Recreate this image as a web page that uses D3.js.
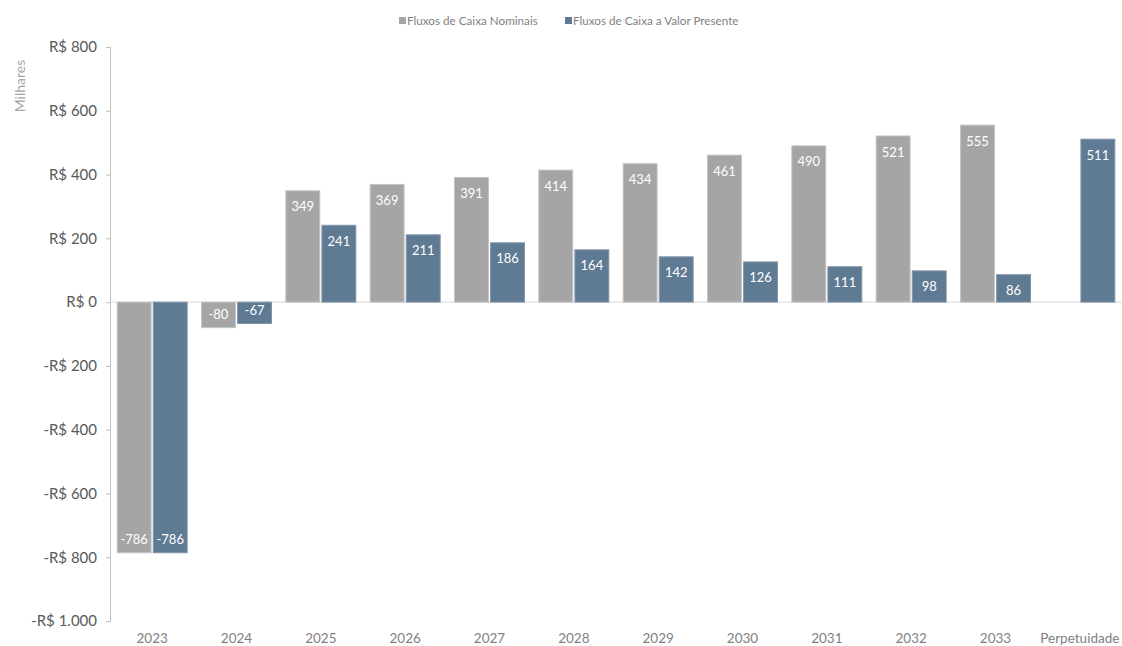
<!DOCTYPE html>
<html><head><meta charset="utf-8">
<script src="https://cdn.jsdelivr.net/npm/d3@7"></script>
<style>
body{margin:0;background:#fff;}
text{font-family:Lato,"Open Sans",sans-serif;}
</style></head>
<body><svg id="c" width="1122" height="646"></svg>
<script>
const categories = ["2023","2024","2025","2026","2027","2028","2029","2030","2031","2032","2033","Perpetuidade"];
const nominal = [-786,-80,349,369,391,414,434,461,490,521,555,null];
const presentValue = [-786,-67,241,211,186,164,142,126,111,98,86,511];
const yTicks = [800,600,400,200,0,-200,-400,-600,-800,-1000];
const seriesNames = ["Fluxos de Caixa Nominais","Fluxos de Caixa a Valor Presente"];
const colors = ["#A5A5A5","#5F7A93"];

const svg = d3.select("#c");
const mLeft = 110, mRight = 1122, mTop = 47, mBottom = 621;
const y = d3.scaleLinear().domain([-1000,800]).range([mBottom, mTop]);
const x = d3.scaleBand().domain(categories).range([mLeft, mRight]).paddingInner(0).paddingOuter(0);
const sub = d3.scaleBand().domain([0,1]).range([-35,35]).paddingInner(0.06);

// zero line
svg.append("line").attr("x1",mLeft).attr("x2",mRight).attr("y1",y(0)).attr("y2",y(0))
  .attr("stroke","#d9d9d9").attr("stroke-width",1);

// y axis
const fmt = v => v===0 ? "R$ 0" : (v<0 ? "-" : "") + "R$ " + d3.format(",")(Math.abs(v)).replace(/,/g,".");
const yAxis = d3.axisLeft(y).tickValues(yTicks).tickFormat(fmt).tickSize(4).tickPadding(9);
const gy = svg.append("g").attr("transform",`translate(${mLeft},0)`).call(yAxis);
gy.select(".domain").attr("stroke","#bfbfbf");
gy.selectAll(".tick line").attr("stroke","#bfbfbf");
gy.selectAll(".tick text").attr("fill","#595959").style("font-size","15px");

// x labels
const xAxis = d3.axisBottom(x).tickSize(0).tickPadding(0);
const gx = svg.append("g").attr("transform",`translate(0,${mBottom+12})`).call(xAxis);
gx.select(".domain").remove();
gx.selectAll(".tick text").attr("fill","#7f7f7f").style("font-size","13.5px");

const series = [nominal, presentValue];
series.forEach((vals, si) => {
  const data = categories.map((c,i)=>({c, v: vals[i]})).filter(d=>d.v!==null);
  const g = svg.append("g");
  g.selectAll("rect").data(data).join("rect")
    .attr("x", d => x(d.c) + x.bandwidth()/2 + sub(si))
    .attr("width", sub.bandwidth())
    .attr("y", d => y(Math.max(0,d.v)))
    .attr("height", d => Math.abs(y(d.v)-y(0)))
    .attr("fill", colors[si])
    .attr("stroke", si===0 ? "#c4c4c4" : "#8296aa").attr("stroke-width",1);
  g.selectAll("text").data(data).join("text")
    .attr("x", d => x(d.c) + x.bandwidth()/2 + sub(si) + sub.bandwidth()/2)
    .attr("y", d => d.v>=0 ? y(d.v)+16 : y(d.v)-13)
    .attr("dy","0.35em").attr("text-anchor","middle")
    .attr("fill","#ffffff").style("font-size","13px")
    .text(d => d.v);
});

// Milhares
svg.append("text").attr("transform","translate(25,86) rotate(-90)")
  .attr("text-anchor","middle").attr("fill","#a6a6a6").style("font-size","14px").text("Milhares");

// legend
const legX = [399, 565];
seriesNames.forEach((n,i)=>{
  svg.append("rect").attr("x",legX[i]).attr("y",17).attr("width",7).attr("height",7).attr("fill",colors[i]);
  svg.append("text").attr("x",legX[i]+8).attr("y",21).attr("dy","0.35em")
    .attr("fill","#7f7f7f").style("font-size","11.7px").text(n);
});
</script></body></html>
